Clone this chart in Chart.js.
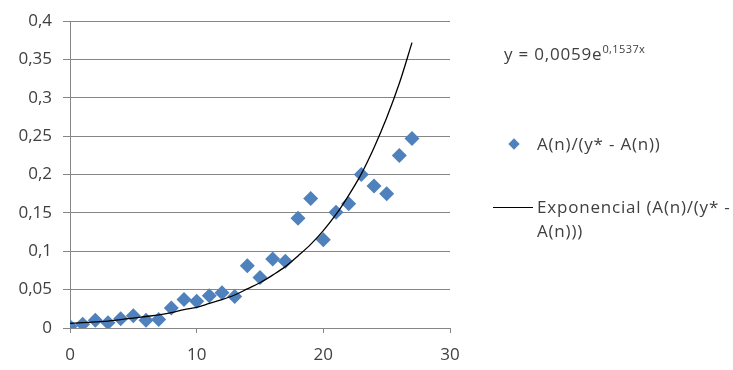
<!DOCTYPE html>
<html>
<head>
<meta charset="utf-8">
<script src="https://cdn.jsdelivr.net/npm/chart.js@4.4.0/dist/chart.umd.min.js"></script>
<style>
    body { margin: 0; background: #fff; }
    #wrap { position: relative; width: 733px; height: 370px; font-family: "Open Sans", sans-serif; color: #404040; }
    .lbl { position: absolute; font-size: 17px; letter-spacing: 0.8px; white-space: nowrap; line-height: 24px; }
    .lbl sup { font-size: 11px; letter-spacing: 0.4px; vertical-align: 7px; line-height: 0; }
    #diamond { position: absolute; left: 510px; top: 140px; width: 8px; height: 8px; background: #4f81bd; transform: rotate(45deg); }
    #trendKey { position: absolute; left: 493px; top: 207px; width: 40px; border-top: 1.5px solid #000; }
</style>
</head>
<body>
<div id="wrap">
    <canvas id="chart" width="733" height="370"></canvas>
    <div class="lbl" style="left:504px; top:42px;">y = 0,0059e<sup>0,1537x</sup></div>
    <div id="diamond"></div>
    <div class="lbl" style="left:537px; top:132px;">A(n)/(y* - A(n))</div>
    <div id="trendKey"></div>
    <div class="lbl" style="left:537px; top:195px;">Exponencial (A(n)/(y* -<br>A(n)))</div>
</div>
<script>
// n values
var nValues = [0, 1, 2, 3, 4, 5, 6, 7, 8, 9, 10, 11, 12, 13, 14, 15, 16, 17, 18, 19, 20, 21, 22, 23, 24, 25, 26, 27];

// A(n)/(y* - A(n))
var ratioValues = [0.002, 0.005, 0.010, 0.007, 0.012, 0.016, 0.010, 0.011, 0.026, 0.037,
    0.035, 0.042, 0.046, 0.041, 0.081, 0.066, 0.090, 0.087, 0.143, 0.169,
    0.115, 0.151, 0.162, 0.200, 0.185, 0.175, 0.225, 0.247];

// exponential trend line, read at each n
var trendValues = [0.006, 0.007, 0.008, 0.009, 0.011, 0.013, 0.015, 0.017, 0.020, 0.024,
    0.027, 0.032, 0.037, 0.043, 0.051, 0.059, 0.069, 0.080, 0.094, 0.109,
    0.127, 0.148, 0.173, 0.201, 0.235, 0.274, 0.319, 0.372];

var xTicks = [0, 10, 20, 30];
var yTicks = [0, 0.05, 0.1, 0.15, 0.2, 0.25, 0.3, 0.35, 0.4];

function toPoints(ys) {
    return nValues.map(function (n, i) { return {x: n, y: ys[i]}; });
}

function comma(v) {
    return String(+v.toFixed(2)).replace(".", ",");
}

var ctx = document.getElementById("chart");
new Chart(ctx, {
    type: "scatter",
    data: {
        datasets: [
            {
                label: "Exponencial (A(n)/(y* - A(n)))",
                data: toPoints(trendValues),
                showLine: true,
                borderColor: "#000",
                borderWidth: 1.3,
                pointRadius: 0,
                tension: 0.4,
                cubicInterpolationMode: "monotone",
                fill: false
            },
            {
                label: "A(n)/(y* - A(n))",
                data: toPoints(ratioValues),
                pointStyle: "rectRot",
                pointRadius: 7.5,
                backgroundColor: "#4f81bd",
                borderColor: "#4f81bd",
                borderWidth: 0
            }
        ]
    },
    options: {
        responsive: false,
        animation: false,
        events: [],
        layout: {padding: {left: 0, right: 283, top: 12, bottom: 0}},
        plugins: {legend: {display: false}, tooltip: {enabled: false}},
        scales: {
            x: {
                type: "linear",
                min: 0,
                max: 30,
                afterBuildTicks: function (axis) { axis.ticks = xTicks.map(function (v) { return {value: v}; }); },
                afterFit: function (axis) { axis.height = 42; },
                grid: {drawOnChartArea: false, drawTicks: true, tickLength: 5, color: "#868686"},
                border: {color: "#868686"},
                ticks: {color: "#404040", font: {family: "Open Sans", size: 17}, padding: 12, maxRotation: 0}
            },
            y: {
                min: 0,
                max: 0.4,
                afterBuildTicks: function (axis) { axis.ticks = yTicks.map(function (v) { return {value: v}; }); },
                afterFit: function (axis) { axis.width = 70; },
                grid: {color: "#868686", tickLength: 7},
                border: {color: "#868686"},
                ticks: {color: "#404040", font: {family: "Open Sans", size: 17}, padding: 11, callback: comma}
            }
        }
    }
});
</script>
</body>
</html>
